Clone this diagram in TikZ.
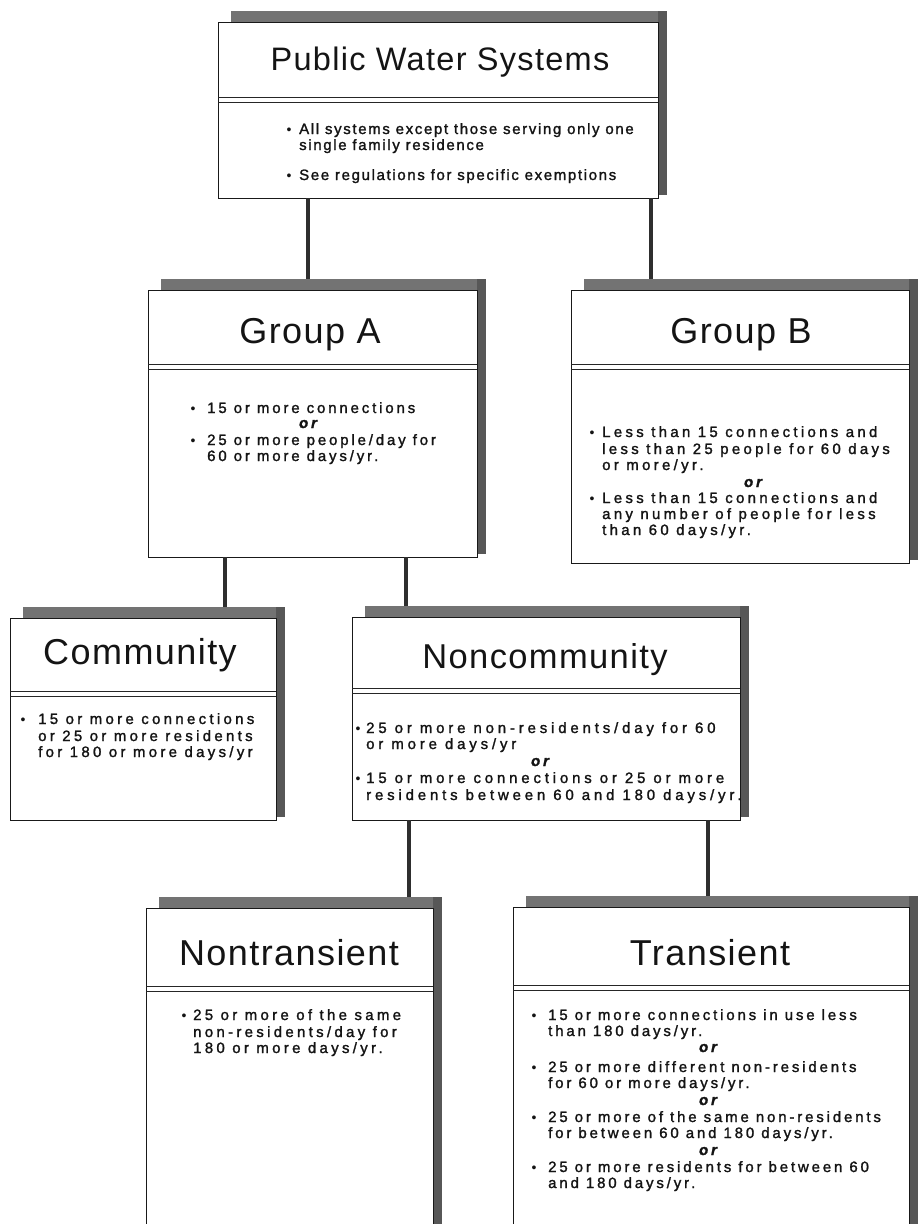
\documentclass[tikz,border=0pt]{standalone}
\usepackage{fontspec}
\setmainfont{Liberation Sans}
\newfontfamily\titlefont[LetterSpace=4]{Liberation Sans}
\newfontfamily\bodyfont[LetterSpace=19,FakeBold=1.5]{Liberation Sans}
\newfontfamily\widebodyfont[LetterSpace=22,FakeBold=1.5]{Liberation Sans}
\newfontfamily\ncbodyfont[LetterSpace=25.5,FakeBold=1.5]{Liberation Sans}
\newfontfamily\topbodyfont[LetterSpace=11,FakeBold=1.5]{Liberation Sans}
\tikzset{
  shadowbox/.style={fill=black!55, draw=none, inner sep=0pt, outer sep=0pt, anchor=north west},
  whitebox/.style={fill=white, draw=black!90, line width=1pt, inner sep=0pt, outer sep=0pt, anchor=north west},
  conn/.style={line width=4pt, draw=black!82},
  sepline/.style={line width=0.9pt, draw=black!85},
  ttl/.style={font=\titlefont\fontsize{36}{40}\selectfont, anchor=base, inner sep=0pt, text=black!92},
  bd/.style={font=\bodyfont\fontsize{15}{17}\selectfont, anchor=base west, inner sep=0pt, text=black!92},
  wbd/.style={font=\widebodyfont\fontsize{15}{17}\selectfont, anchor=base west, inner sep=0pt, text=black!92},
  nbd/.style={font=\ncbodyfont\fontsize{15}{17}\selectfont, anchor=base west, inner sep=0pt, text=black!92},
  tbd/.style={font=\topbodyfont\fontsize{15}{17}\selectfont, anchor=base west, inner sep=0pt, text=black!92},
  orx/.style={font=\bodyfont\fontsize{15}{17}\selectfont\bfseries\itshape, anchor=base, inner sep=0pt, text=black!92},
  bul/.style={font=\fontsize{14}{16}\selectfont, anchor=base, inner sep=0pt, text=black!92},
}
% name, left, top, right, bottom, separator
\newcommand\panelbox[6]{%
  \node[shadowbox, minimum width={(#4)-(#2)-4}, minimum height={(#5)-(#3)+8}] (#1-sh) at (#2+13,#3-11) {};
  \fill[black!66] (#4,#3-11) rectangle (#4+9,#5-3);
  \node[whitebox, minimum width={(#4)-(#2)}, minimum height={(#5)-(#3)}] (#1) at (#2,#3) {};
  \draw[sepline] (#2,#6) -- (#4,#6);
  \draw[sepline] (#2,#6+5) -- (#4,#6+5);
}
\begin{document}
\begin{tikzpicture}[x=1pt,y=-1pt]
\useasboundingbox (0,0) rectangle (919,1224);
\clip (0,0) rectangle (919,1224);
\fill[white] (0,0) rectangle (919,1224);

% ---------- boxes ----------
\panelbox{pws}{218}{22}{658}{198}{97}
\panelbox{ga}{148}{290}{477}{557}{364}
\panelbox{gb}{571}{290}{909}{563}{364}
\panelbox{com}{10}{618}{276}{820}{691}
\panelbox{nc}{352}{617}{740}{820}{688}
\panelbox{nt}{146}{908}{433}{1240}{986}
\panelbox{tr}{513}{907}{909}{1240}{985}

% ---------- connectors ----------
\coordinate (x1) at (308,0);
\coordinate (x2) at (651,0);
\coordinate (x3) at (225,0);
\coordinate (x4) at (406,0);
\coordinate (x5) at (409,0);
\coordinate (x6) at (708,0);
\draw[conn] (pws.south -| x1) -- (ga-sh.north -| x1);
\draw[conn] (pws.south -| x2) -- (gb-sh.north -| x2);
\draw[conn] (ga.south -| x3) -- (com-sh.north -| x3);
\draw[conn] (ga.south -| x4) -- (nc-sh.north -| x4);
\draw[conn] (nc.south -| x5) -- (nt-sh.north -| x5);
\draw[conn] (nc.south -| x6) -- (tr-sh.north -| x6);

% ---------- Public Water Systems ----------
\node[ttl, font=\titlefont\fontsize{32.5}{38}\selectfont] (pwsT) at (440,70) {Public Water Systems};
\node[bul] (pwsB1) at (289,134) {•};
\node[tbd] (pwsL1) at (299,134) {All systems except those serving only one};
\node[tbd] (pwsL2) at (299,150) {single family residence};
\node[bul] (pwsB2) at (289,180) {•};
\node[tbd] (pwsL3) at (299,180) {See regulations for specific exemptions};

% ---------- Group A ----------
\node[ttl] (gaT) at (310,343) {Group A};
\node[bul] (gaB1) at (193,413) {•};
\node[bd] (gaL1) at (207,413) {15 or more connections};
\node[orx] (gaO1) at (308,428) {or};
\node[bul] (gaB2) at (193,445) {•};
\node[bd] (gaL2) at (207,445) {25 or more people/day for};
\node[bd] (gaL3) at (207,461) {60 or more days/yr.};

% ---------- Group B ----------
\node[ttl] (gbT) at (741,343) {Group B};
\node[bul] (gbB1) at (592,437) {•};
\node[wbd] (gbL1) at (602,437) {Less than 15 connections and};
\node[wbd] (gbL2) at (602,454) {less than 25 people for 60 days};
\node[wbd] (gbL3) at (602,470) {or more/yr.};
\node[orx] (gbO1) at (753,487) {or};
\node[bul] (gbB2) at (592,503) {•};
\node[wbd] (gbL4) at (602,503) {Less than 15 connections and};
\node[wbd] (gbL5) at (602,519) {any number of people for less};
\node[wbd] (gbL6) at (602,535) {than 60 days/yr.};

% ---------- Community ----------
\node[ttl] (comT) at (140,664) {Community};
\node[bul] (comB1) at (23,724) {•};
\node[wbd] (comL1) at (38,724) {15 or more connections};
\node[wbd] (comL2) at (38,741) {or 25 or more residents};
\node[wbd] (comL3) at (38,757) {for 180 or more days/yr};

% ---------- Noncommunity ----------
\node[ttl, font=\titlefont\fontsize{34.5}{40}\selectfont] (ncT) at (545,668) {Noncommunity};
\node[bul] (ncB1) at (358,733) {•};
\node[nbd] (ncL1) at (366,733) {25 or more non-residents/day for 60};
\node[nbd] (ncL2) at (366,749) {or more days/yr};
\node[orx] (ncO1) at (540,766) {or};
\node[bul] (ncB2) at (358,783) {•};
\node[nbd] (ncL3) at (366,783) {15 or more connections or 25 or more};
\node[nbd] (ncL4) at (366,800) {residents between 60 and 180 days/yr.};

% ---------- Nontransient ----------
\node[ttl] (ntT) at (289,965) {Nontransient};
\node[bul] (ntB1) at (184,1020) {•};
\node[wbd] (ntL1) at (193,1020) {25 or more of the same};
\node[wbd] (ntL2) at (193,1037) {non-residents/day for};
\node[wbd] (ntL3) at (193,1053) {180 or more days/yr.};

% ---------- Transient ----------
\node[ttl] (trT) at (710,965) {Transient};
\node[bul] (trB1) at (534,1020) {•};
\node[bd] (trL1) at (548,1020) {15 or more connections in use less};
\node[bd] (trL2) at (548,1036) {than 180 days/yr.};
\node[orx] (trO1) at (708,1052) {or};
\node[bul] (trB2) at (534,1072) {•};
\node[bd] (trL3) at (548,1072) {25 or more different non-residents};
\node[bd] (trL4) at (548,1088) {for 60 or more days/yr.};
\node[orx] (trO2) at (708,1105) {or};
\node[bul] (trB3) at (534,1122) {•};
\node[bd] (trL5) at (548,1122) {25 or more of the same non-residents};
\node[bd] (trL6) at (548,1138) {for between 60 and 180 days/yr.};
\node[orx] (trO3) at (708,1155) {or};
\node[bul] (trB4) at (534,1172) {•};
\node[bd] (trL7) at (548,1172) {25 or more residents for between 60};
\node[bd] (trL8) at (548,1188) {and 180 days/yr.};
\end{tikzpicture}
\end{document}
